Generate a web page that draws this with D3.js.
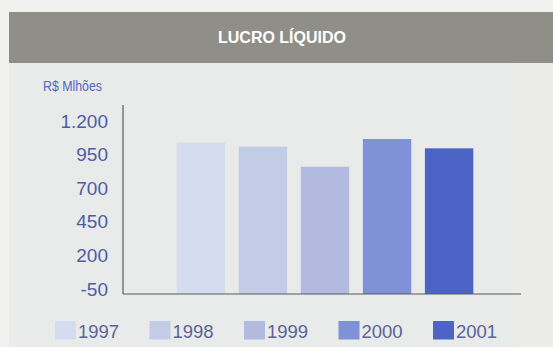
<!DOCTYPE html>
<html>
<head>
<meta charset="utf-8">
<script src="https://cdn.jsdelivr.net/npm/d3@7"></script>
<style>
  html, body { margin: 0; padding: 0; background: #f1f1ef; }
  svg { display: block; }
</style>
</head>
<body>
<svg id="chart" width="553" height="347"></svg>
<script>
// ---- data ----
const years = ["1997", "1998", "1999", "2000", "2001"];
const values = [1076, 1046, 897, 1103, 1034];
const barColors = ["#d6dcef", "#c3cce7", "#b2bbdf", "#7f92d7", "#4d64c7"];
const tickValues = [-50, 200, 450, 700, 950, 1200];
const tickLabels = ["-50", "200", "450", "700", "950", "1.200"];
const title = "LUCRO LÍQUIDO";
const unitLabel = "R$ Mlhões";

// ---- layout ----
const W = 553, H = 347;
const svg = d3.select("#chart");

// backgrounds
svg.append("rect").attr("x", 0).attr("y", 0).attr("width", W).attr("height", H).attr("fill", "#f1f1ef");
svg.append("rect").attr("x", 9).attr("y", 12).attr("width", 506).attr("height", H - 12).attr("fill", "#e8ebea");
svg.append("rect").attr("x", 515).attr("y", 12).attr("width", W - 515).attr("height", H - 12).attr("fill", "#ebebe8");
svg.append("rect").attr("x", 9).attr("y", 12).attr("width", W - 9).attr("height", 51).attr("fill", "#8f8f88");

svg.append("text")
  .attr("x", 282).attr("y", 43)
  .attr("text-anchor", "middle")
  .attr("font-family", "Liberation Sans, Arial, sans-serif")
  .attr("font-weight", "bold")
  .attr("font-size", 16)
  .attr("fill", "#ffffff")
  .text(title);

svg.append("text")
  .attr("x", 43).attr("y", 91)
  .attr("font-family", "Liberation Sans Narrow, Liberation Sans, sans-serif")
  .attr("font-size", 15)
  .attr("textLength", 59)
  .attr("lengthAdjust", "spacingAndGlyphs")
  .attr("fill", "#5566c2")
  .text(unitLabel);

// scales
const y = d3.scaleLinear().domain([-50, 1200]).range([294, 126]);
const x = d3.scaleBand().domain(years).range([176.7, 473.3]).paddingInner(0.22).paddingOuter(0);

// bars
svg.append("g").selectAll("rect")
  .data(years)
  .join("rect")
  .attr("x", d => x(d))
  .attr("width", x.bandwidth())
  .attr("y", (d, i) => y(values[i]))
  .attr("height", (d, i) => y(-50) - y(values[i]))
  .attr("fill", (d, i) => barColors[i]);

// y axis labels
const yAxis = d3.axisLeft(y)
  .tickValues(tickValues)
  .tickFormat((d, i) => tickLabels[i])
  .tickSize(0)
  .tickPadding(15);
const gy = svg.append("g").attr("transform", "translate(123,0)").call(yAxis);
gy.select(".domain").remove();
gy.selectAll("text")
  .attr("dy", "0.32em")
  .attr("transform", "translate(0,-5)")
  .attr("font-family", "Liberation Sans, Arial, sans-serif")
  .attr("font-size", 19)
  .attr("fill", "#4f5ca3");

// axis lines
svg.append("line")
  .attr("x1", 123).attr("x2", 123)
  .attr("y1", 105).attr("y2", y(-50))
  .attr("stroke", "#5a5a5a").attr("stroke-width", 1.2);
svg.append("line")
  .attr("x1", 123).attr("x2", 521)
  .attr("y1", y(-50)).attr("y2", y(-50))
  .attr("stroke", "#5a5a5a").attr("stroke-width", 1.2);

// legend
const lx = d3.scaleBand().domain(years).range([55, 527.5]).padding(0);
const leg = svg.append("g").selectAll("g")
  .data(years)
  .join("g")
  .attr("transform", d => `translate(${lx(d)},0)`);
leg.append("rect")
  .attr("x", 0).attr("y", 321)
  .attr("width", 21).attr("height", 18.5)
  .attr("fill", (d, i) => barColors[i]);
leg.append("text")
  .attr("x", 23).attr("y", 337.5)
  .attr("font-family", "Liberation Sans, Arial, sans-serif")
  .attr("font-size", 18.5)
  .attr("fill", "#5a6397")
  .text(d => d);
</script>
</body>
</html>
